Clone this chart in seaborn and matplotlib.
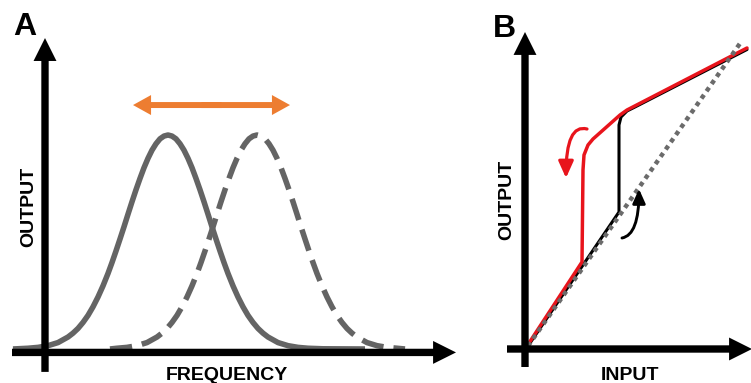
import matplotlib
matplotlib.use("Agg")
import matplotlib.pyplot as plt
import seaborn as sns
import pandas as pd

# ---- Panel A: tuning curves, output vs. frequency ----
solid_freq = [-3.2, -1.7, -0.7, 0.3, 1.3, 2.3, 2.8, 3.3, 3.8, 4.3,
              4.8, 5.3, 5.8, 6.3, 6.7, 7.1, 7.5, 7.9, 8.3, 8.7,
              9.1, 9.5, 9.9, 10.3, 10.7, 11.1, 11.5, 11.9, 12.3, 12.7,
              13.1, 13.5, 13.9, 14.3, 14.7, 15.1, 15.5, 15.9, 16.3, 16.7,
              17.1, 17.5, 17.9, 18.3, 18.8, 19.3, 19.8, 20.3, 20.8, 21.3,
              21.8, 22.3, 23.3, 24.3, 25.3, 26.3, 27.8, 32.0]
solid_out = [0.0, 0.0035, 0.0076, 0.0156, 0.030, 0.056, 0.074, 0.096, 0.124, 0.157,
             0.197, 0.243, 0.295, 0.353, 0.404, 0.458, 0.514, 0.571, 0.630, 0.688,
             0.744, 0.797, 0.847, 0.891, 0.929, 0.959, 0.982, 0.995, 1.0, 0.995,
             0.982, 0.959, 0.929, 0.891, 0.847, 0.797, 0.744, 0.688, 0.630, 0.571,
             0.514, 0.458, 0.404, 0.353, 0.295, 0.243, 0.197, 0.157, 0.124, 0.096,
             0.074, 0.056, 0.030, 0.0156, 0.0076, 0.0035, 0.001, 0.0]
dashed_freq = [6.5, 7.2, 8.2, 9.2, 10.2, 11.2, 11.7, 12.2, 12.7, 13.2,
               13.7, 14.2, 14.7, 15.2, 15.6, 16.0, 16.4, 16.8, 17.2, 17.6,
               18.0, 18.4, 18.8, 19.2, 19.6, 20.0, 20.4, 20.8, 21.2, 21.6,
               22.0, 22.4, 22.8, 23.2, 23.6, 24.0, 24.4, 24.8, 25.2, 25.6,
               26.0, 26.4, 26.8, 27.2, 27.7, 28.2, 28.7, 29.2, 29.7, 30.2,
               30.7, 31.2, 32.2, 33.2, 34.2, 35.2, 36.0]
dashed_out = [0.0, 0.0035, 0.0076, 0.0156, 0.030, 0.056, 0.074, 0.096, 0.124, 0.157,
              0.197, 0.243, 0.295, 0.353, 0.404, 0.458, 0.514, 0.571, 0.630, 0.688,
              0.744, 0.797, 0.847, 0.891, 0.929, 0.959, 0.982, 0.995, 1.0, 0.995,
              0.982, 0.959, 0.929, 0.891, 0.847, 0.797, 0.744, 0.688, 0.630, 0.571,
              0.514, 0.458, 0.404, 0.353, 0.295, 0.243, 0.197, 0.157, 0.124, 0.096,
              0.074, 0.056, 0.030, 0.0156, 0.0076, 0.0035, 0.0]
shift_freq = [8.8, 24.5]      # extent of the orange shift arrow
shift_level = 1.14

# ---- Panel B: input/output relation with hysteresis ----
identity_in = [0.3, 21.6]
identity_out = [0.3, 30.7]
up_in = [0.3, 9.4, 9.4, 9.6, 10.2, 11.0, 22.2]
up_out = [0.3, 13.7, 22.4, 23.2, 23.8, 24.2, 29.95]
down_in = [0.4, 5.7, 5.8, 5.9, 6.3, 6.8, 9.5, 10.2, 22.2]
down_out = [0.6, 8.7, 17.9, 19.4, 20.4, 21.0, 23.4, 23.9, 30.1]
down_arrow = [(6.2, 22.0), (4.1, 17.1)]
up_arrow = [(9.7, 11.1), (11.4, 16.0)]

GRAY = "#646464"
ORANGE = "#ED7D31"
RED = "#E8141C"
DOT = "#6b6b6b"

sns.set_theme(style="white")
plt.rcParams["font.family"] = ["Liberation Sans", "DejaVu Sans"]

W, H = 751, 383
fig = plt.figure(figsize=(W / 100, H / 100), dpi=100)
axA = fig.add_axes([0, 0, 470 / W, 1])
axB = fig.add_axes([470 / W, 0, 281 / W, 1])
for ax in (axA, axB):
    ax.set_axis_off()

axA.set_xlim(-4.5, 42.5)
axA.set_ylim(-34 / 214, 349 / 214)
axB.set_xlim(-5.5, 22.6)
axB.set_ylim(-3.4, 34.9)


def axis_arrow(ax, tail, tip):
    ax.annotate("", xy=tip, xytext=tail,
                arrowprops=dict(facecolor="black", edgecolor="none",
                                width=5.3, headwidth=16.5, headlength=16.5,
                                shrink=0),
                annotation_clip=False, zorder=6)


# Panel A curves
dfA1 = pd.DataFrame({"freq": solid_freq, "out": solid_out})
dfA2 = pd.DataFrame({"freq": dashed_freq, "out": dashed_out})
sns.lineplot(data=dfA1, x="freq", y="out", ax=axA, color=GRAY, lw=4.0,
             sort=False, estimator=None, solid_capstyle="butt",
             solid_joinstyle="round")
sns.lineplot(data=dfA2, x="freq", y="out", ax=axA, color=GRAY, lw=4.0,
             sort=False, estimator=None, linestyle=(0, (4.0, 1.8)),
             dash_capstyle="butt", dash_joinstyle="round")
axA.set_xlabel("")
axA.set_ylabel("")

# orange double arrow showing the shift (two heads, overlapping shafts)
mid = (shift_freq[0] + shift_freq[1]) / 2
for end, back in ((shift_freq[0], mid + 1.0), (shift_freq[1], mid - 1.0)):
    axA.annotate("", xy=(end, shift_level), xytext=(back, shift_level),
                 arrowprops=dict(facecolor=ORANGE, edgecolor="none",
                                 width=4.3, headwidth=14.4, headlength=13,
                                 shrink=0), zorder=4)

axis_arrow(axA, (0.0, -0.107), (0.0, 1.453))
axis_arrow(axA, (-3.3, -0.016), (41.1, -0.016))

axA.text(-2.5, (349 - 207) / 214, "OUTPUT", rotation=90, ha="left",
         va="center", fontsize=14, fontweight="bold", color="black")
axA.text(18.2, (349 - 380) / 214, "FREQUENCY", ha="center", va="baseline",
         fontsize=14, fontweight="bold", color="black")

# Panel B curves
dfUp = pd.DataFrame({"inp": up_in, "out": up_out})
dfDown = pd.DataFrame({"inp": down_in, "out": down_out})
dfId = pd.DataFrame({"inp": identity_in, "out": identity_out})
sns.lineplot(data=dfUp, x="inp", y="out", ax=axB, color="black", lw=2.2,
             sort=False, estimator=None, zorder=2)
sns.lineplot(data=dfDown, x="inp", y="out", ax=axB, color=RED, lw=2.5,
             sort=False, estimator=None, zorder=3)
sns.lineplot(data=dfId, x="inp", y="out", ax=axB, color=DOT, lw=3.2,
             sort=False, estimator=None, linestyle=(0, (1.0, 1.0)),
             dash_capstyle="butt", zorder=4)
axB.set_xlabel("")
axB.set_ylabel("")

axB.annotate("", xy=down_arrow[1], xytext=down_arrow[0],
             arrowprops=dict(arrowstyle="-|>,head_length=1.0,head_width=0.45",
                             mutation_scale=10, color=RED, lw=2.3,
                             connectionstyle="angle3,angleA=165,angleB=90",
                             shrinkA=0, shrinkB=0), zorder=5)
axB.annotate("", xy=up_arrow[1], xytext=up_arrow[0],
             arrowprops=dict(arrowstyle="-|>,head_length=0.85,head_width=0.38",
                             mutation_scale=10, color="black", lw=2.1,
                             connectionstyle="angle3,angleA=10,angleB=90",
                             shrinkA=0, shrinkB=0), zorder=5)

axis_arrow(axB, (0.0, -1.8), (0.0, 31.7))
axis_arrow(axB, (-1.8, 0.0), (22.7, 0.0))

axB.text(-2.7, (349 - 200) / 10, "OUTPUT", rotation=90, ha="left",
         va="center", fontsize=14, fontweight="bold", color="black")
axB.text(10.5, (349 - 380) / 10, "INPUT", ha="center", va="baseline",
         fontsize=14, fontweight="bold", color="black")

# panel letters
fig.text(13 / W, 1 - 35 / H, "A", ha="left", va="baseline",
         fontsize=23, fontweight="bold", color="black")
fig.text(493 / W, 1 - 37 / H, "B", ha="left", va="baseline",
         fontsize=23, fontweight="bold", color="black")

fig.savefig("out.png", dpi=100)
